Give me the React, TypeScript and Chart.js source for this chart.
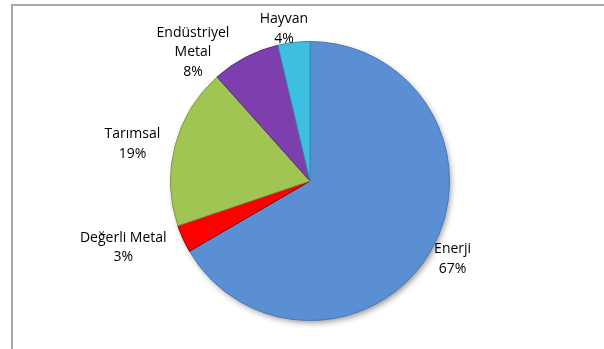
import React, { useEffect, useRef } from "react";
import { Chart, registerables } from "chart.js";

Chart.register(...registerables);

const categories = ["Enerji", "Değerli Metal", "Tarımsal", "Endüstriyel Metal", "Hayvan"];
const labelLines = [["Enerji"], ["Değerli Metal"], ["Tarımsal"], ["Endüstriyel", "Metal"], ["Hayvan"]];
const shares = [66.6, 3.2, 18.6, 7.9, 3.7];
const sliceColors = ["#5B8FD3", "#FF0000", "#A0C553", "#7D3EAE", "#3EBEE0"];
const sliceBorders = ["#4A77B0", "#8A0000", "#7E9C3E", "#5E2C85", "#2B93AF"];
// label nudges relative to an anchor just outside each slice (pixels)
const labelNudges = [[0, -4], [-37, -1.5], [-18.5, 5], [-41, 17], [-7, 11.5]];

const shadowPlugin = {
  id: "pieShadow",
  beforeDatasetsDraw(chart: any) {
    const meta = chart.getDatasetMeta(0);
    const arc = meta.data[0];
    if (!arc) return;
    const ctx = chart.ctx;
    ctx.save();
    ctx.shadowColor = "rgba(0,0,0,0.45)";
    ctx.shadowBlur = 6;
    ctx.shadowOffsetX = 2;
    ctx.shadowOffsetY = 3;
    ctx.fillStyle = "#5B8FD3";
    ctx.beginPath();
    ctx.arc(arc.x, arc.y, arc.outerRadius - 1, 0, Math.PI * 2);
    ctx.fill();
    ctx.restore();
  },
};

const labelPlugin = {
  id: "outsideLabels",
  afterDraw(chart: any) {
    const meta = chart.getDatasetMeta(0);
    const ctx = chart.ctx;
    ctx.save();
    ctx.font = "14px 'Open Sans'";
    ctx.fillStyle = "#000";
    ctx.textAlign = "center";
    ctx.textBaseline = "middle";
    const lineH = 19.5;
    meta.data.forEach((arc: any, i: number) => {
      const mid = (arc.startAngle + arc.endAngle) / 2;
      const R = arc.outerRadius + 25;
      const cx = arc.x + Math.cos(mid) * R + labelNudges[i][0];
      const cy = arc.y + Math.sin(mid) * R + labelNudges[i][1];
      const lines = [...labelLines[i], Math.round(shares[i]) + "%"];
      const top = cy - ((lines.length - 1) * lineH) / 2;
      lines.forEach((t, k) => ctx.fillText(t, cx, top + k * lineH));
    });
    ctx.restore();
  },
};

export default function App() {
  const ref = useRef<HTMLCanvasElement>(null);
  useEffect(() => {
    document.body.style.margin = "0";
    const chart = new Chart(ref.current!, {
      type: "pie",
      data: {
        labels: categories,
        datasets: [
          {
            data: shares,
            backgroundColor: sliceColors,
            borderColor: sliceBorders,
            borderWidth: 1,
          },
        ],
      },
      options: {
        animation: false,
        responsive: false,
        layout: { padding: { top: 41, bottom: 28, left: 170, right: 154 } },
        plugins: { legend: { display: false }, tooltip: { enabled: false } },
      },
      plugins: [shadowPlugin, labelPlugin],
    });
    return () => chart.destroy();
  }, []);
  return (
    <div style={{ position: "fixed", left: 0, top: 0, width: 604, height: 349, background: "#fff", overflow: "hidden" }}>
      <div
        style={{
          position: "absolute",
          left: 11,
          top: 4,
          width: 700,
          height: 400,
          borderTop: "2px solid #a8a8a8",
          borderLeft: "2px solid #a8a8a8",
        }}
      />
      <canvas ref={ref} width={604} height={349} style={{ position: "absolute", left: 0, top: 0 }} />
    </div>
  );
}
